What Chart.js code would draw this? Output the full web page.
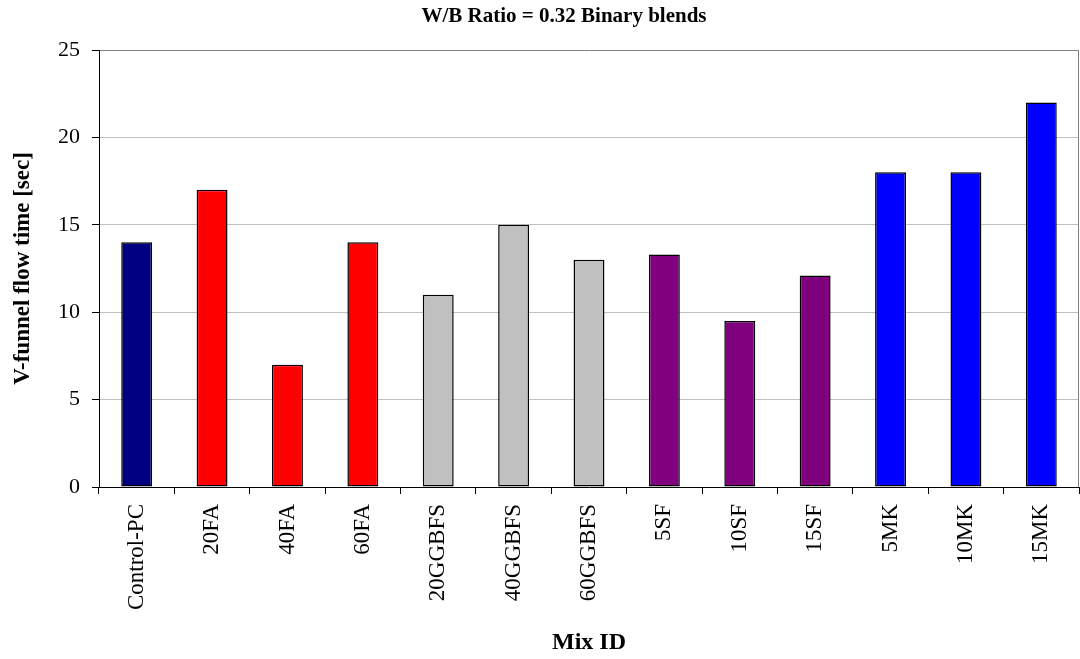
<!DOCTYPE html>
<html>
<head>
<meta charset="utf-8">
<script src="https://cdn.jsdelivr.net/npm/chart.js@4"></script>
<style>
  html, body { margin: 0; padding: 0; background: #fff; }
  #wrap { width: 1080px; height: 659px; position: relative; }
</style>
</head>
<body>
<div id="wrap"><canvas id="chart"></canvas></div>
<script>
const mixIds = ['Control-PC', '20FA', '40FA', '60FA', '20GGBFS', '40GGBFS', '60GGBFS',
  '5SF', '10SF', '15SF', '5MK', '10MK', '15MK'];
const flowTimes = [14, 17, 7, 14, 11, 15, 13, 13.3, 9.5, 12.1, 18, 18, 22];
const barColors = ['#000080', '#ff0000', '#ff0000', '#ff0000', '#c0c0c0', '#c0c0c0', '#c0c0c0',
  '#800080', '#800080', '#800080', '#0000ff', '#0000ff', '#0000ff'];
const yTicks = [0, 5, 10, 15, 20, 25];

const serif = 'Liberation Serif';

// chart title + grey right border of the plot
const frame = {
  id: 'frame',
  afterDraw(chart) {
    const { ctx, chartArea } = chart;
    ctx.save();
    ctx.strokeStyle = '#808080';
    ctx.lineWidth = 1;
    ctx.beginPath();
    ctx.moveTo(Math.round(chartArea.right) - 0.5, chartArea.top);
    ctx.lineTo(Math.round(chartArea.right) - 0.5, chartArea.bottom);
    ctx.stroke();
    ctx.fillStyle = '#000';
    ctx.font = `bold 21px "${serif}"`;
    ctx.textAlign = 'center';
    ctx.textBaseline = 'middle';
    ctx.fillText('W/B Ratio = 0.32 Binary blends', 564, 17);
    ctx.restore();
  },
};

new Chart(document.getElementById('chart'), {
  type: 'bar',
  data: {
    labels: mixIds,
    datasets: [{
      data: flowTimes,
      backgroundColor: barColors,
      borderColor: '#000',
      borderWidth: 1.5,
      borderSkipped: false,
      barPercentage: 0.41,
      categoryPercentage: 1,
    }],
  },
  options: {
    responsive: true,
    maintainAspectRatio: false,
    animation: false,
    layout: { padding: { top: 50, right: 1, left: 0, bottom: 0 } },
    plugins: {
      legend: { display: false },
      tooltip: { enabled: false },
      title: { display: false },
    },
    scales: {
      x: {
        afterFit: (scale) => { scale.height = 172; },
        border: { color: '#000', width: 1 },
        grid: { drawOnChartArea: false, drawTicks: true, tickLength: 7, tickColor: '#000', offset: true },
        ticks: {
          color: '#000',
          font: { family: serif, size: 23 },
          minRotation: 90,
          maxRotation: 90,
          autoSkip: false,
          padding: 10,
        },
        title: {
          display: true,
          text: 'Mix ID',
          color: '#000',
          font: { family: serif, size: 24, weight: 'bold' },
          padding: { top: 0, bottom: 2 },
        },
      },
      y: {
        min: 0,
        max: 25,
        afterFit: (scale) => { scale.width = 99; },
        afterBuildTicks: (scale) => { scale.ticks = yTicks.map((v) => ({ value: v })); },
        border: { color: '#000', width: 1 },
        grid: {
          color: (c) => (c.tick && c.tick.value === 25 ? '#808080' : '#c0c0c0'),
          tickColor: '#000',
          tickLength: 7,
        },
        ticks: {
          color: '#000',
          font: { family: serif, size: 22 },
          padding: 12,
        },
        title: {
          display: true,
          text: 'V-funnel flow time [sec]',
          color: '#000',
          font: { family: serif, size: 23, weight: 'bold' },
          padding: { top: 9, bottom: 0 },
        },
      },
    },
  },
  plugins: [frame],
});
</script>
</body>
</html>
